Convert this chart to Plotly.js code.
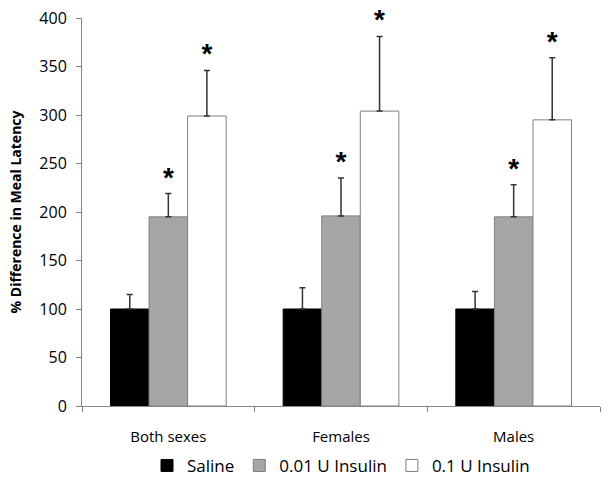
<!DOCTYPE html>
<html>
<head>
<meta charset="utf-8">
<script src="https://cdn.plot.ly/plotly-3.0.1.min.js"></script>
<style>html,body{margin:0;padding:0;background:#fff;}#chart{width:612px;height:483px;}</style>
</head>
<body>
<div id="chart"></div>
<script>
const categories = ["Both sexes", "Females", "Males"];
const seriesNames = ["Saline", "0.01 U Insulin", "0.1 U Insulin"];
const saline = [100, 100, 100];
const salineErr = [15, 22, 18];
const insulin001 = [195, 196, 195];
const insulin001Err = [24, 39, 33];
const insulin01 = [299, 304, 295];
const insulin01Err = [47, 77, 64];
const sigSaline = ["", "", ""];
const sig001 = ["*", "*", "*"];
const sig01 = ["*", "*", "*"];

const fills = ["#000000", "#a6a6a6", "#ffffff"];
const outlines = ["#000000", "#7f7f7f", "#7f7f7f"];
const vals = [saline, insulin001, insulin01];
const errs = [salineErr, insulin001Err, insulin01Err];
const sigs = [sigSaline, sig001, sig01];

const traces = [];
for (let i = 0; i < 3; i++) {
  traces.push({
    type: "bar", name: seriesNames[i], x: categories, y: vals[i],
    offsetgroup: "g" + i,
    marker: {color: fills[i], line: {color: outlines[i], width: 1}},
    error_y: {type: "data", symmetric: false, array: errs[i], arrayminus: [0,0,0],
              color: "#333333", thickness: 1.5, width: 3}
  });
}
for (let i = 0; i < 3; i++) {
  traces.push({
    type: "scatter", mode: "text", x: categories,
    y: vals[i].map((v, k) => v + errs[i][k]),
    text: sigs[i], textposition: "top center",
    textfont: {family: "Liberation Sans", size: 28, color: "#000", weight: "bold"},
    offsetgroup: "g" + i, showlegend: false, hoverinfo: "skip", cliponaxis: false
  });
}

const layout = {
  width: 612, height: 483,
  margin: {l: 82, r: 12, t: 18, b: 77, autoexpand: false},
  paper_bgcolor: "#fff", plot_bgcolor: "#fff",
  font: {family: "'Open Sans', sans-serif", size: 14, color: "#000"},
  barmode: "group", bargap: 0.33, bargroupgap: 0,
  scattermode: "group", scattergap: 0.33,
  showlegend: true,
  legend: {orientation: "h", x: 0.5, xanchor: "center", y: -0.108, yanchor: "top",
           font: {size: 17}, itemwidth: 30, traceorder: "normal"},
  xaxis: {type: "category", showline: true, linecolor: "#868686", linewidth: 1,
          ticks: "outside", tickson: "boundaries", ticklen: 5, tickcolor: "#868686",
          showgrid: false, zeroline: false, tickfont: {size: 15}, ticklabelstandoff: 17},
  yaxis: {range: [0, 400], dtick: 50, showline: true, linecolor: "#868686", linewidth: 1,
          ticks: "outside", ticklen: 5, tickcolor: "#868686", showgrid: false, zeroline: false,
          tickfont: {size: 16}, ticklabelstandoff: 6,
          title: {text: "<b>% Difference in Meal Latency</b>", font: {size: 14}, standoff: 14}}
};
Plotly.newPlot("chart", traces, layout, {displayModeBar: false, staticPlot: true});
</script>
</body>
</html>
